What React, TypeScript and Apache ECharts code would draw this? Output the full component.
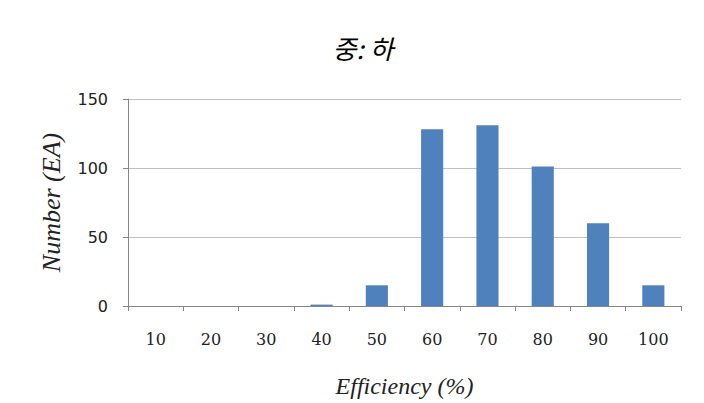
import React, { useEffect, useRef } from "react";
import * as echarts from "echarts";

const categories = ["10", "20", "30", "40", "50", "60", "70", "80", "90", "100"];
const counts = [0, 0, 0, 1, 15, 128, 131, 101, 60, 15];
const yTicks = { min: 0, max: 150, interval: 50 };

export default function App() {
  const ref = useRef<HTMLDivElement>(null);
  useEffect(() => {
    if (!ref.current) return;
    const chart = echarts.init(ref.current, undefined, { renderer: "svg" });
    chart.setOption({
      animation: false,
      backgroundColor: "#ffffff",
      graphic: [
        {
          type: "text",
          x: 363,
          y: 47,
          style: {
            text: "중: 하",
            fontFamily: "Noto Sans CJK KR",
            fontSize: 26,
            fontStyle: "italic",
            fill: "#000",
            align: "center",
            verticalAlign: "middle",
          },
        },
      ],
      grid: { left: 128, right: 23, top: 99, bottom: 92 },
      xAxis: {
        type: "category",
        data: categories,
        name: "Efficiency (%)",
        nameLocation: "middle",
        nameGap: 68,
        nameTextStyle: {
          fontFamily: "Liberation Serif",
          fontStyle: "italic",
          fontSize: 24,
          color: "#222",
        },
        axisLine: { lineStyle: { color: "#868686" } },
        axisTick: { show: true, length: 5, lineStyle: { color: "#868686" } },
        axisLabel: {
          fontFamily: "DejaVu Serif",
          fontSize: 16,
          color: "#222",
          margin: 25,
        },
      },
      yAxis: {
        type: "value",
        min: yTicks.min,
        max: yTicks.max,
        interval: yTicks.interval,
        name: "Number (EA)",
        nameLocation: "middle",
        nameGap: 64,
        nameRotate: 90,
        nameTextStyle: {
          fontFamily: "Liberation Serif",
          fontStyle: "italic",
          fontSize: 26,
          color: "#222",
        },
        axisLine: { show: true, lineStyle: { color: "#868686" } },
        axisTick: { show: true, length: 5, lineStyle: { color: "#868686" } },
        axisLabel: {
          fontFamily: "DejaVu Sans",
          fontSize: 16,
          color: "#222",
          margin: 20,
        },
        splitLine: { lineStyle: { color: "#c0c0c0" } },
      },
      series: [
        {
          type: "bar",
          data: counts,
          barWidth: "40%",
          itemStyle: { color: "#4f81bd" },
        },
      ],
    });
    return () => chart.dispose();
  }, []);
  return (
    <div
      ref={ref}
      style={{ position: "fixed", left: 0, top: 0, width: 704, height: 403 }}
    />
  );
}
